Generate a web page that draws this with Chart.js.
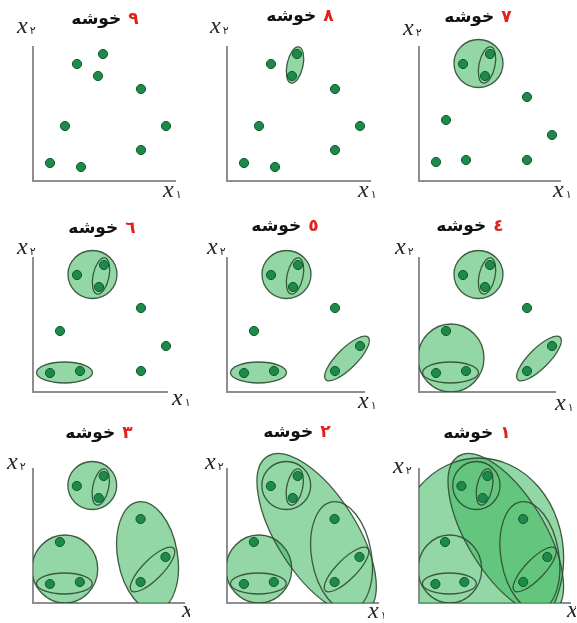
<!DOCTYPE html>
<html>
<head>
<meta charset="utf-8">
<script src="https://cdn.jsdelivr.net/npm/chart.js@4.4.1/dist/chart.umd.min.js"></script>
<style>
    body { margin: 0; background: #fff; width: 577px; height: 623px; position: relative; overflow: hidden; }
    .panel { position: absolute; width: 190px; height: 211px; }
</style>
</head>
<body>
<div id="grid"></div>
<script>
// ---------------- Datos ----------------

// 9 puntos (A..I), en las dos primeras gráficas la nube está un poco distinta
const pointX = [17, 47, 27, 44, 71, 66, 108, 108, 133];
const pointY = [19, 21, 61, 117, 127, 105, 84, 21, 46];
const pointXEarly = [17, 48, 32, 44, 70, 65, 108, 108, 133];
const pointYEarly = [18, 14, 55, 117, 127, 105, 92, 31, 55];

const clusterCounts = ['۹', '۸', '۷', '٦', '٥', '٤', '۳', '۲', '۱'];
const titleWord = 'خوشه';

// clusters: [cx, cy, semi-eje a, semi-eje b, ángulo en grados]
const EF = [68, 116, 18.5, 8, 78];
const DEF = [59.5, 117.5, 24.5, 24, 0];
const AB = [31.5, 19.5, 28, 10.5, 0];
const HI = [120, 33.5, 30, 10, 45];
const ABC = [32, 34, 33, 34, 0];
const GHI = [115, 47, 55, 30, 100];
const DI = [90, 69, 92, 40, -57.5];
const ALL = [62, 45, 88, 100, 0];

// [cluster, relleno (1 = nivel superior)]
const panelShapes = [
    [],
    [[EF, 1]],
    [[DEF, 1], [EF, 0]],
    [[DEF, 1], [EF, 0], [AB, 1]],
    [[DEF, 1], [EF, 0], [AB, 1], [HI, 1]],
    [[DEF, 1], [EF, 0], [ABC, 1], [AB, 0], [HI, 1]],
    [[DEF, 1], [EF, 0], [ABC, 1], [AB, 0], [GHI, 1], [HI, 0]],
    [[ABC, 1], [DI, 1], [AB, 0], [DEF, 0], [EF, 0], [GHI, 0], [HI, 0]],
    [[ALL, 1], [DI, 1], [ABC, 0], [AB, 0], [DEF, 0], [EF, 0], [GHI, 0], [HI, 0]]
];

// ---------------- Layout ----------------

const colLeft = [0, 194, 386];
const rowTop = [0, 211, 422];
const AXIS_LEFT = 33, AXIS_BOTTOM = 181, Y_LEN = 134;

const layout = [
    { xLen: 142, title: [105, 20], x1: [130, 16], x2: [-16, -14] },
    { xLen: 143, title: [106, 17], x1: [131, 16], x2: [-17, -14] },
    { xLen: 141, title: [92, 18], x1: [134, 16], x2: [-16, -12] },
    { xLen: 134, title: [102, 18], x1: [139, 13], x2: [-16, -4] },
    { xLen: 137, title: [91, 16], x1: [131, 16], x2: [-20, -4] },
    { xLen: 136, title: [84, 16], x1: [136, 18], x2: [-24, -4] },
    { xLen: 152, title: [99, 12], x1: [149, 14], x2: [-26, 0] },
    { xLen: 152, title: [103, 11], x1: [141, 15], x2: [-22, 0] },
    { xLen: 157, title: [91, 12], x1: [148, 14], x2: [-26, 4] }
];

const FILL = 'rgba(60, 182, 92, 0.55)';
const STROKE = 'rgba(45, 75, 50, 0.9)';

// ---------------- Plugins ----------------

const clusterPlugin = {
    id: 'clusters',
    beforeDatasetsDraw(chart, args, opts) {
        const { ctx, chartArea, scales: { x, y } } = chart;
        const sx = x.getPixelForValue(1) - x.getPixelForValue(0);
        const sy = y.getPixelForValue(0) - y.getPixelForValue(1);

        const path = s => {
            const [cx, cy, a, b, ang] = s;
            ctx.save();
            ctx.translate(x.getPixelForValue(cx), y.getPixelForValue(cy));
            ctx.scale(sx, -sy);
            ctx.rotate(ang * Math.PI / 180);
            ctx.beginPath();
            ctx.ellipse(0, 0, a, b, 0, 0, Math.PI * 2);
            ctx.restore();
        };

        ctx.save();
        ctx.beginPath();
        ctx.rect(chartArea.left, 0, chart.width - chartArea.left, chartArea.bottom);
        ctx.clip();

        opts.shapes.filter(s => s[1]).forEach(s => {
            path(s[0]);
            ctx.fillStyle = FILL;
            ctx.fill();
        });
        opts.shapes.forEach(s => {
            path(s[0]);
            ctx.lineWidth = 1.3;
            ctx.strokeStyle = STROKE;
            ctx.stroke();
        });
        ctx.restore();
    }
};

const labelsPlugin = {
    id: 'panelLabels',
    afterDraw(chart, args, opts) {
        const { ctx, chartArea } = chart;
        const L = opts.layout;
        ctx.save();

        // título: "N خوشه" (rtl: número a la derecha)
        ctx.font = 'bold 17px "DejaVu Sans"';
        ctx.textBaseline = 'middle';
        const wWord = ctx.measureText(titleWord).width;
        const wNum = ctx.measureText(opts.count).width;
        const gap = 7;
        const left = L.title[0] - (wWord + gap + wNum) / 2;
        ctx.textAlign = 'left';
        ctx.fillStyle = '#111';
        ctx.fillText(titleWord, left, L.title[1]);
        ctx.fillStyle = '#e3211c';
        ctx.fillText(opts.count, left + wWord + gap, L.title[1]);

        // x₁ y x₂
        const axisLabel = (px, py, sub) => {
            ctx.textBaseline = 'alphabetic';
            ctx.fillStyle = '#222';
            ctx.font = 'italic 24px "Liberation Serif"';
            ctx.fillText('x', px, py);
            const w = ctx.measureText('x').width;
            ctx.font = '11px "DejaVu Sans"';
            ctx.fillText(sub, px + w + 2, py + 1);
        };
        axisLabel(chartArea.left + L.x1[0], chartArea.bottom + L.x1[1], '۱');
        axisLabel(chartArea.left + L.x2[0], chartArea.top + L.x2[1], '۲');

        ctx.restore();
    }
};

// ---------------- Gráficas ----------------

const grid = document.getElementById('grid');

clusterCounts.forEach((count, i) => {
    const L = layout[i];
    const div = document.createElement('div');
    div.className = 'panel';
    div.style.left = colLeft[i % 3] + 'px';
    div.style.top = rowTop[Math.floor(i / 3)] + 'px';
    const canvas = document.createElement('canvas');
    canvas.width = 190;
    canvas.height = 211;
    div.appendChild(canvas);
    grid.appendChild(div);

    const xs = i < 2 ? pointXEarly : pointX;
    const ys = i < 2 ? pointYEarly : pointY;

    const axis = (max) => ({
        type: 'linear',
        min: 0,
        max,
        grid: { display: false, drawTicks: false },
        ticks: { display: false },
        border: { display: true, color: '#8e8e8e', width: 2 }
    });

    new Chart(canvas, {
        type: 'scatter',
        data: {
            datasets: [{
                data: xs.map((v, k) => ({ x: v, y: ys[k] })),
                backgroundColor: '#1d8a4a',
                borderColor: '#0e5a2c',
                borderWidth: 1,
                pointRadius: 4.6,
                clip: false
            }]
        },
        options: {
            responsive: false,
            animation: false,
            devicePixelRatio: 1,
            layout: {
                padding: {
                    left: AXIS_LEFT,
                    top: AXIS_BOTTOM - Y_LEN,
                    bottom: 211 - AXIS_BOTTOM,
                    right: 190 - AXIS_LEFT - L.xLen
                }
            },
            scales: { x: axis(L.xLen), y: axis(Y_LEN) },
            plugins: {
                legend: { display: false },
                tooltip: { enabled: false },
                clusters: { shapes: panelShapes[i] },
                panelLabels: { layout: L, count }
            }
        },
        plugins: [clusterPlugin, labelsPlugin]
    });
});
</script>
</body>
</html>
